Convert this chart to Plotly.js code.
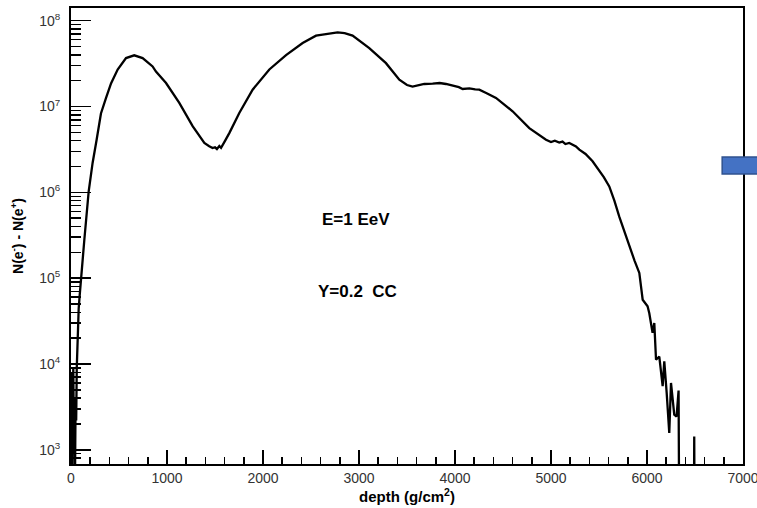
<!DOCTYPE html>
<html>
<head>
<meta charset="utf-8">
<script src="https://cdn.plot.ly/plotly-3.0.1.min.js"></script>
<style>html,body{margin:0;padding:0;background:#fff;}#chart{width:757px;height:508px;}</style>
</head>
<body>
<div id="chart"></div>
<script>
// depth (g/cm^2)
const depth = [0, 6, 12, 18, 24, 30, 36, 42, 48, 54, 60, 66, 72, 80, 90, 104, 139, 184, 225, 267, 312, 365, 417, 486, 573, 659, 746, 850, 885, 990, 1128, 1267, 1389, 1440, 1475, 1500, 1520, 1545, 1563, 1600, 1649, 1753, 1892, 2066, 2240, 2413, 2552, 2621, 2700, 2777, 2850, 2933, 3107, 3281, 3420, 3500, 3558, 3620, 3680, 3767, 3840, 3906, 3980, 4040, 4080, 4150, 4210, 4253, 4330, 4427, 4600, 4774, 4948, 5000, 5040, 5086, 5120, 5150, 5190, 5230, 5260, 5295, 5360, 5433, 5485, 5550, 5607, 5660, 5711, 5760, 5815, 5870, 5920, 5955, 6006, 6024, 6058, 6076, 6094, 6128, 6163, 6180, 6205, 6232, 6250, 6284, 6308, 6329, 6336, 6340, 6488, 6492, 6496, 7000];
// N(e-) - N(e+)
const nDiff = [100, 8000, 150, 2500, 9000, 1200, 3000, 500, 4000, 2200, 9000, 18000, 32000, 44000, 62000, 100000, 280000, 1020000, 2200000, 4100000, 8300000, 12600000, 18600000, 27000000, 36700000, 39500000, 36700000, 29300000, 25500000, 18800000, 11000000, 5900000, 3760000, 3450000, 3280000, 3350000, 3200000, 3470000, 3300000, 3900000, 4900000, 8400000, 15700000, 27000000, 39800000, 55000000, 67000000, 69000000, 71500000, 73000000, 71500000, 67000000, 48000000, 32000000, 20500000, 17800000, 17100000, 17600000, 18300000, 18500000, 18800000, 18300000, 17600000, 16800000, 16000000, 16300000, 15800000, 15700000, 14300000, 12600000, 8800000, 5600000, 4100000, 3850000, 4000000, 3800000, 3900000, 3650000, 3760000, 3550000, 3430000, 3140000, 2800000, 2300000, 1920000, 1500000, 1170000, 800000, 520000, 360000, 234000, 160000, 115000, 56000, 47000, 39000, 23000, 30000, 11200, 12200, 5500, 10700, 4600, 1570, 6000, 2560, 2440, 4900, 100, 100, 100, 1430, 100, 100];

const yTickVals = [1e3, 1e4, 1e5, 1e6, 1e7, 1e8];
const yTickText = ['10<sup>3</sup>', '10<sup>4</sup>', '10<sup>5</sup>', '10<sup>6</sup>', '10<sup>7</sup>', '10<sup>8</sup>'];
const xTitle = 'depth (g/cm<sup>2</sup>)';
const yTitle = 'N(e<sup>-</sup>) - N(e<sup>+</sup>)';
const label1 = 'E=1 EeV';
const label2 = 'Y=0.2\u00a0\u00a0CC';

const minorVals = [];
for (let e = 2; e <= 8; e++) {
  for (let d = 2; d <= 9; d++) minorVals.push(d * Math.pow(10, e));
}

const trace = {
  x: depth, y: nDiff, type: 'scatter', mode: 'lines',
  line: {color: '#000', width: 2.3}, hoverinfo: 'skip'
};

const tickFont = {family: 'Liberation Sans, Arial, sans-serif', size: 14, color: '#333'};

const layout = {
  width: 757, height: 508,
  margin: {l: 71, r: 14, t: 8, b: 44},
  paper_bgcolor: '#fff', plot_bgcolor: '#fff',
  showlegend: false,
  xaxis: {
    range: [0, 7000], dtick: 1000, tick0: 0,
    ticks: 'inside', ticklen: 14, tickwidth: 1.5, tickcolor: '#000',
    minor: {dtick: 200, ticks: 'inside', ticklen: 7, tickwidth: 1.5, tickcolor: '#000', showgrid: false},
    showgrid: false, zeroline: false,
    showline: true, linecolor: '#000', linewidth: 2, mirror: true,
    tickfont: tickFont, ticklabeloverflow: 'allow',
    title: {text: xTitle, font: {family: 'Liberation Sans, Arial, sans-serif', size: 15, color: '#000', weight: 'bold'}, standoff: 5}
  },
  yaxis: {
    type: 'log', range: [2.834, 8.148],
    tickmode: 'array', tickvals: yTickVals, ticktext: yTickText,
    ticks: 'inside', ticklen: 20, tickwidth: 1.5, tickcolor: '#000',
    minor: {tickmode: 'array', tickvals: minorVals, ticks: 'inside', ticklen: 10, tickwidth: 1.5, tickcolor: '#000', showgrid: false},
    showgrid: false, zeroline: false,
    showline: true, linecolor: '#000', linewidth: 2, mirror: true,
    tickfont: tickFont, ticklabelstandoff: 6,
    title: {text: yTitle, font: {family: 'Liberation Sans, Arial, sans-serif', size: 14, color: '#000', weight: 'bold'}, standoff: 12}
  },
  annotations: [
    {x: 2972, y: 5.68, xref: 'x', yref: 'y', text: label1, showarrow: false,
     font: {family: 'Liberation Sans, Arial, sans-serif', size: 17, color: '#000', weight: 'bold'}},
    {x: 2982, y: 4.84, xref: 'x', yref: 'y', text: label2, showarrow: false,
     font: {family: 'Liberation Sans, Arial, sans-serif', size: 17, color: '#000', weight: 'bold'}}
  ],
  shapes: [
    {type: 'rect', xref: 'paper', yref: 'paper', x0: 0.969, x1: 1.03, y0: 0.636, y1: 0.673,
     fillcolor: '#4472C4', line: {color: '#2F528F', width: 1.5}, layer: 'above'}
  ]
};

Plotly.newPlot('chart', [trace], layout, {displayModeBar: false, staticPlot: true});
</script>
</body>
</html>
